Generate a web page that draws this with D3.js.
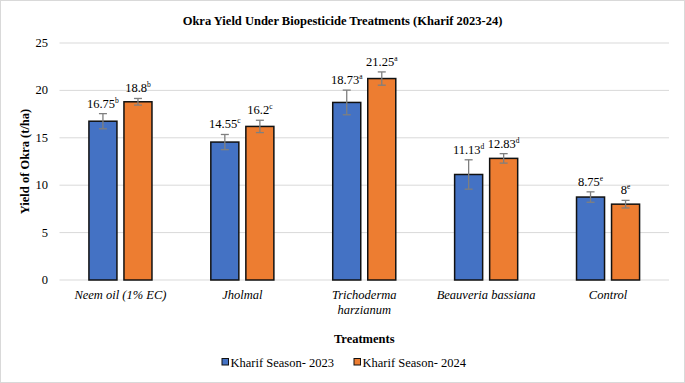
<!DOCTYPE html>
<html>
<head>
<meta charset="utf-8">
<script src="https://cdn.jsdelivr.net/npm/d3@7/dist/d3.min.js"></script>
<style>
  body { margin: 0; background: #fff; }
  svg { display: block; font-family: "Liberation Serif", "Times New Roman", serif; }
</style>
</head>
<body>
<svg id="chart" width="685" height="383"></svg>
<script>
// data
const treatments = [['Neem oil (1% EC)'], ['Jholmal'], ['Trichoderma', 'harzianum'], ['Beauveria bassiana'], ['Control']];
const seasons = ['Kharif Season- 2023', 'Kharif Season- 2024'];
const yield2023 = [16.75, 14.55, 18.73, 11.13, 8.75];
const yield2024 = [18.8, 16.2, 21.25, 12.83, 8];
const err2023 = [0.8, 0.8, 1.3, 1.55, 0.55];
const err2024 = [0.35, 0.65, 0.7, 0.5, 0.4];
const letters2023 = ['b', 'c', 'a', 'd', 'e'];
const letters2024 = ['b', 'c', 'a', 'd', 'e'];
const yTicks = [0, 5, 10, 15, 20, 25];

const colors = ['#4472C4', '#ED7D31'];

const svg = d3.select('#chart');
const W = 685, H = 383;
const margin = { left: 59.5, right: 16, top: 43, bottom: 103 };

// outer border
svg.append('rect')
    .attr('x', 0.5).attr('y', 0.5)
    .attr('width', W - 1).attr('height', H - 1)
    .attr('fill', '#fff')
    .attr('stroke', '#d9d9d9');

const x = d3.scaleBand()
    .domain(d3.range(treatments.length))
    .range([margin.left, W - margin.right]);

const xs = d3.scaleBand()
    .domain([0, 1])
    .range([0, x.bandwidth()])
    .paddingInner(0.2)
    .paddingOuter(0.84);

const y = d3.scaleLinear()
    .domain([0, 25])
    .range([H - margin.bottom, margin.top]);

// gridlines
svg.append('g')
    .selectAll('line')
    .data(yTicks)
    .enter()
    .append('line')
    .attr('x1', margin.left).attr('x2', W - margin.right)
    .attr('y1', d => y(d)).attr('y2', d => y(d))
    .attr('stroke', '#d9d9d9')
    .attr('stroke-width', 1);

// y axis tick labels
svg.append('g')
    .selectAll('text')
    .data(yTicks)
    .enter()
    .append('text')
    .attr('x', 48)
    .attr('y', d => y(d) + 4)
    .attr('text-anchor', 'end')
    .attr('font-size', '12.5px')
    .attr('fill', '#000')
    .text(d => d);

const series = [
    { vals: yield2023, errs: err2023, letters: letters2023 },
    { vals: yield2024, errs: err2024, letters: letters2024 }
];

series.forEach((s, si) => {
    const g = svg.append('g');
    const bx = i => x(i) + xs(si);

    g.selectAll('rect')
        .data(s.vals)
        .enter()
        .append('rect')
        .attr('x', (d, i) => bx(i))
        .attr('y', d => y(d))
        .attr('width', xs.bandwidth())
        .attr('height', d => y(0) - y(d))
        .attr('fill', colors[si])
        .attr('stroke', '#111')
        .attr('stroke-width', 1.5);

    // error bars
    const eb = g.selectAll('.err')
        .data(s.vals)
        .enter()
        .append('g')
        .attr('class', 'err')
        .attr('stroke', '#7f7f7f')
        .attr('stroke-width', 1.3);
    const cx = i => bx(i) + xs.bandwidth() / 2;
    eb.append('line')
        .attr('x1', (d, i) => cx(i)).attr('x2', (d, i) => cx(i))
        .attr('y1', (d, i) => y(d - s.errs[i])).attr('y2', (d, i) => y(d + s.errs[i]));
    eb.append('line')
        .attr('x1', (d, i) => cx(i) - 4).attr('x2', (d, i) => cx(i) + 4)
        .attr('y1', (d, i) => y(d - s.errs[i])).attr('y2', (d, i) => y(d - s.errs[i]));
    eb.append('line')
        .attr('x1', (d, i) => cx(i) - 4).attr('x2', (d, i) => cx(i) + 4)
        .attr('y1', (d, i) => y(d + s.errs[i])).attr('y2', (d, i) => y(d + s.errs[i]));

    // value labels with superscript letters
    const lab = g.selectAll('.lab')
        .data(s.vals)
        .enter()
        .append('text')
        .attr('class', 'lab')
        .attr('x', (d, i) => cx(i))
        .attr('y', (d, i) => y(d + s.errs[i]) - 6)
        .attr('text-anchor', 'middle')
        .attr('font-size', '12.5px')
        .attr('fill', '#000');
    lab.append('tspan').text(d => d);
    lab.append('tspan')
        .attr('font-size', '7.5px')
        .attr('dy', -5)
        .text((d, i) => s.letters[i]);
});

// category labels
const cat = svg.append('g')
    .selectAll('text')
    .data(treatments)
    .enter()
    .append('text')
    .attr('x', (d, i) => x(i) + x.bandwidth() / 2)
    .attr('y', H - margin.bottom + 19)
    .attr('text-anchor', 'middle')
    .attr('font-size', '12.5px')
    .attr('font-style', 'italic');
cat.selectAll('tspan')
    .data(d => d)
    .enter()
    .append('tspan')
    .attr('x', function () { return this.parentNode.getAttribute('x'); })
    .attr('dy', (d, i) => i === 0 ? 0 : 14.5)
    .text(d => d);

// title
svg.append('text')
    .attr('x', W / 2)
    .attr('y', 25)
    .attr('text-anchor', 'middle')
    .attr('font-size', '12.5px')
    .attr('font-weight', 'bold')
    .text('Okra Yield Under Biopesticide Treatments (Kharif 2023-24)');

// axis titles
svg.append('text')
    .attr('x', (margin.left + W - margin.right) / 2)
    .attr('y', 343)
    .attr('text-anchor', 'middle')
    .attr('font-size', '12.5px')
    .attr('font-weight', 'bold')
    .text('Treatments');

svg.append('text')
    .attr('transform', `translate(29,${(y(0) + y(25)) / 2}) rotate(-90)`)
    .attr('text-anchor', 'middle')
    .attr('font-size', '12.5px')
    .attr('font-weight', 'bold')
    .text('Yield of Okra (t/ha)');

// legend
const legend = svg.append('g').attr('transform', 'translate(222,362)');
const legX = [0, 132];
seasons.forEach((s, i) => {
    legend.append('rect')
        .attr('x', legX[i]).attr('y', -3.5)
        .attr('width', 6.5).attr('height', 6.5)
        .attr('fill', colors[i])
        .attr('stroke', '#111')
        .attr('stroke-width', 1);
    legend.append('text')
        .attr('x', legX[i] + 8.5)
        .attr('y', 4.5)
        .attr('font-size', '12.5px')
        .text(s);
});
</script>
</body>
</html>
